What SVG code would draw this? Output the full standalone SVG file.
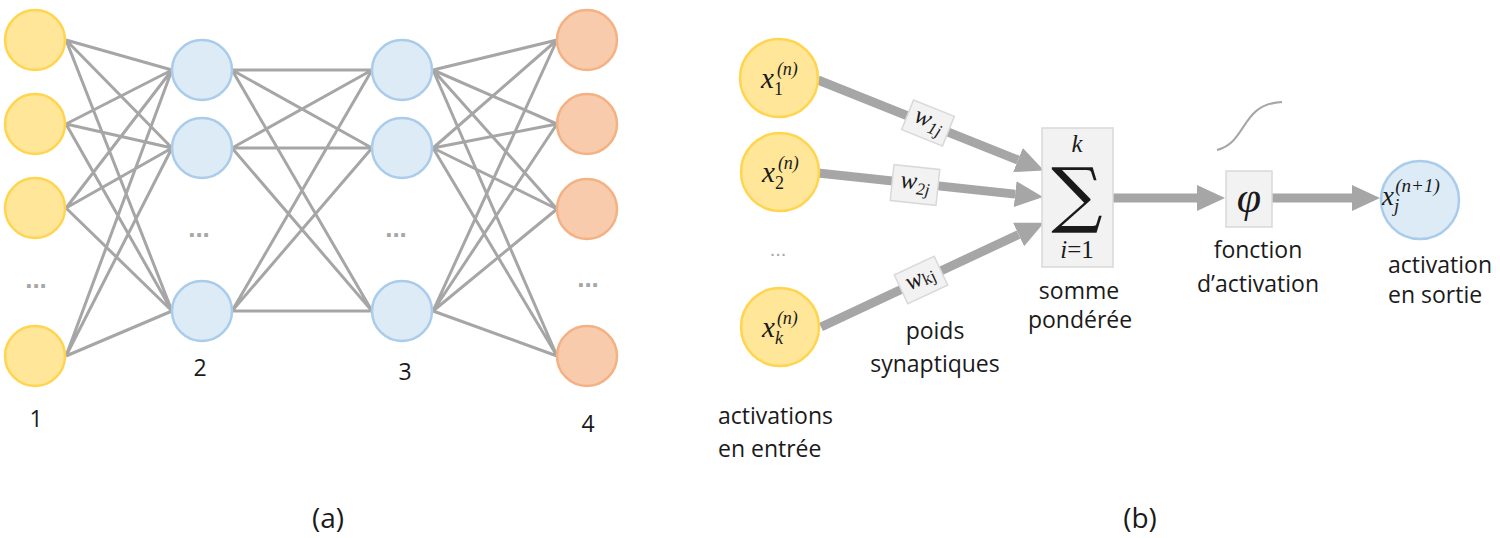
<svg xmlns="http://www.w3.org/2000/svg" width="1500" height="538" viewBox="0 0 1500 538">
<style>
.e{stroke:#A6A6A6;stroke-width:3;fill:none}
.y{fill:#FFE699;stroke:#FFD54F;stroke-width:2.5}
.b{fill:#DDEBF7;stroke:#A9CCEB;stroke-width:2.5}
.o{fill:#F8CBAD;stroke:#F4B183;stroke-width:2.5}
.lbl{font-family:"Open Sans","Liberation Sans",sans-serif;font-size:23px;fill:#1a1a1a}
.dots{font-family:"Liberation Sans",sans-serif;font-size:26px;fill:#A6A6A6;font-weight:bold;text-anchor:middle}
.m{font-family:"Liberation Serif","DejaVu Serif",serif;font-style:italic;fill:#1a1a1a}
.box{fill:#F2F2F2;stroke:#D9D9D9;stroke-width:1.5}
.big{stroke:#A6A6A6;stroke-width:9;fill:none}
</style>
<defs>
<marker id="ah" markerUnits="userSpaceOnUse" markerWidth="28" markerHeight="26" viewBox="0 0 28 26" refX="0" refY="13" orient="auto">
<path d="M0,0 L28,13 L0,26 z" fill="#A6A6A6"/>
</marker>
</defs>
<rect width="1500" height="538" fill="#FFFFFF"/>

<g id="connectors-a">
<path class="e" d="M66,40L172,70M66,40L172,148M66,40L172,311M66,124L172,70M66,124L172,148M66,124L172,311M66,208L172,70M66,208L172,148M66,208L172,311M66,356L172,70M66,356L172,148M66,356L172,311"/>
<path class="e" d="M232,70L372,70M232,70L372,148M232,70L372,311M232,148L372,70M232,148L372,148M232,148L372,311M232,311L372,70M232,311L372,148M232,311L372,311"/>
<path class="e" d="M433,70L557,40M433,70L557,124M433,70L557,209M433,70L557,356M433,148L557,40M433,148L557,124M433,148L557,209M433,148L557,356M433,311L557,40M433,311L557,124M433,311L557,209M433,311L557,356"/>
</g>

<g id="layer1">
<circle class="y" cx="35" cy="40" r="30"/>
<circle class="y" cx="35" cy="124" r="30"/>
<circle class="y" cx="35" cy="208" r="30"/>
<text class="dots" x="36" y="288">...</text>
<circle class="y" cx="35" cy="356" r="30"/>
<text class="lbl" x="36" y="427" text-anchor="middle">1</text>
</g>
<g id="layer2">
<circle class="b" cx="202" cy="70" r="30"/>
<circle class="b" cx="202" cy="148" r="30"/>
<text class="dots" x="199" y="237">...</text>
<circle class="b" cx="202" cy="311" r="30"/>
<text class="lbl" x="200" y="376" text-anchor="middle">2</text>
</g>
<g id="layer3">
<circle class="b" cx="402" cy="70" r="30"/>
<circle class="b" cx="402" cy="148" r="30"/>
<text class="dots" x="396" y="237">...</text>
<circle class="b" cx="402" cy="311" r="30"/>
<text class="lbl" x="405" y="380" text-anchor="middle">3</text>
</g>
<g id="layer4">
<circle class="o" cx="587" cy="40" r="30"/>
<circle class="o" cx="587" cy="124" r="30"/>
<circle class="o" cx="587" cy="209" r="30"/>
<text class="dots" x="588" y="287">...</text>
<circle class="o" cx="587" cy="356" r="30"/>
<text class="lbl" x="588" y="432" text-anchor="middle">4</text>
</g>
<text id="label-a" class="lbl" x="328" y="528" text-anchor="middle" style="font-size:28px">(a)</text>

<g id="connectors-b">
<line class="big" x1="818" y1="80" x2="1018" y2="160" marker-end="url(#ah)"/>
<line class="big" x1="818" y1="173" x2="1015.2" y2="194.1" marker-end="url(#ah)"/>
<line class="big" x1="821" y1="327" x2="1018.6" y2="234.5" marker-end="url(#ah)"/>
<line class="big" x1="1113" y1="198" x2="1197" y2="198" marker-end="url(#ah)"/>
<line class="big" x1="1272" y1="198" x2="1352" y2="198" marker-end="url(#ah)"/>
</g>

<g id="in1">
<circle class="y" cx="779" cy="78" r="39"/>
<text class="m" x="761" y="88" font-size="29">x<tspan font-size="18" dy="7" font-style="normal">1</tspan><tspan font-size="18" dx="-6" dy="-20">(n)</tspan></text>
</g>
<g id="in2">
<circle class="y" cx="780" cy="172" r="39"/>
<text class="m" x="762" y="182" font-size="29">x<tspan font-size="18" dy="7" font-style="normal">2</tspan><tspan font-size="18" dx="-6" dy="-20">(n)</tspan></text>
</g>
<text id="in-dots" class="dots" x="778" y="256" style="font-size:20px;font-weight:normal">...</text>
<g id="ink">
<circle class="y" cx="780" cy="327" r="39"/>
<text class="m" x="762" y="337" font-size="29">x<tspan font-size="18" dy="7">k</tspan><tspan font-size="18" dx="-6" dy="-20">(n)</tspan></text>
</g>
<g id="w1">
<g transform="translate(928,123) rotate(21.8)">
<rect class="box" x="-22" y="-16" width="44" height="32"/>
<text class="m" x="0" y="4" font-size="25" text-anchor="middle">w<tspan font-size="17" dy="5">1j</tspan></text>
</g>
</g>
<g id="w2">
<g transform="translate(915,185) rotate(6)">
<rect class="box" x="-23" y="-18" width="46" height="36"/>
<text class="m" x="0" y="4" font-size="25" text-anchor="middle">w<tspan font-size="17" dy="5">2j</tspan></text>
</g>
</g>
<g id="wk">
<g transform="translate(921,280) rotate(-25)">
<rect class="box" x="-22" y="-16" width="44" height="32"/>
<text class="m" x="0" y="5" font-size="25" text-anchor="middle">w<tspan font-size="17" dy="2" font-style="normal">kj</tspan></text>
</g>
</g>
<text class="lbl" x="935" y="339" text-anchor="middle">poids</text>
<text class="lbl" x="935" y="372" text-anchor="middle">synaptiques</text>
<text class="lbl" x="718" y="424">activations</text>
<text class="lbl" x="718" y="457">en entrée</text>

<g id="sum">
<rect class="box" x="1042" y="128" width="71" height="139"/>
<text class="m" x="1077" y="152" font-size="25" text-anchor="middle">k</text>
<text x="1077" y="219" font-size="72" text-anchor="middle" style="font-family:'DejaVu Serif',serif;fill:#1a1a1a">∑</text>
<text class="m" x="1077" y="258" font-size="25" text-anchor="middle">i<tspan font-style="normal">=1</tspan></text>
<text class="lbl" x="1079" y="299" text-anchor="middle">somme</text>
<text class="lbl" x="1080" y="328" text-anchor="middle">pondérée</text>
</g>

<g id="phi">
<rect class="box" x="1226" y="171" width="46" height="56"/>
<text class="m" x="1249" y="212" font-size="44" text-anchor="middle">φ</text>
<path d="M1217,150 C1248,142 1240,104 1282,102" stroke="#A6A6A6" stroke-width="2" fill="none"/>
<text class="lbl" x="1258" y="258" text-anchor="middle">fonction</text>
<text class="lbl" x="1258" y="292" text-anchor="middle">d’activation</text>
</g>

<g id="out">
<circle class="b" cx="1420" cy="200" r="39"/>
<text class="m" x="1382" y="205" font-size="27">x<tspan font-size="19" dy="7">j</tspan><tspan font-size="19" dx="-4" dy="-20">(n+1)</tspan></text>
<text class="lbl" x="1388" y="273">activation</text>
<text class="lbl" x="1388" y="303">en sortie</text>
</g>
<text id="label-b" class="lbl" x="1140" y="528" text-anchor="middle" style="font-size:28px">(b)</text>
</svg>
